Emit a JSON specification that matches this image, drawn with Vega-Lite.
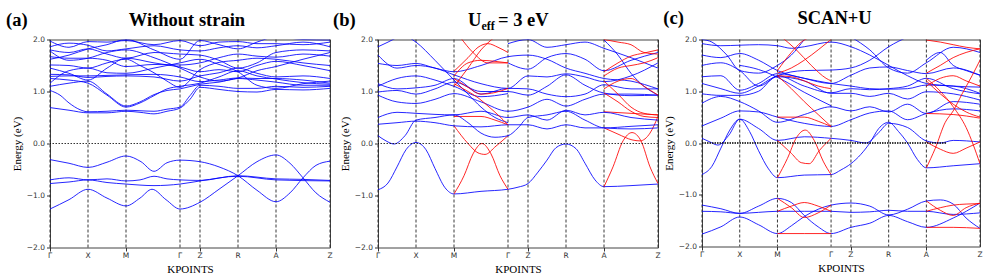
{
"$schema": "https://vega.github.io/schema/vega-lite/v6.json",
"padding": {"left": 5, "top": 8.5, "right": 5, "bottom": 2},
"background": "white",
"config": {
  "view": {"stroke": "#444", "strokeWidth": 1},
  "axis": {"labelFont": "DejaVu Sans", "labelFontSize": 7.5, "labelColor": "#333", "tickColor": "#333", "tickSize": 3.5, "domain": false, "grid": false, "titleFont": "Liberation Serif", "titleFontSize": 11, "titleFontWeight": "normal", "titleColor": "#000", "labelOverlap": false, "labelFlush": false}
},
"datasets": {
"kp": [{"k":0,"lab":"Γ"},{"k":38,"lab":"X"},{"k":76,"lab":"M"},{"k":130,"lab":"Γ"},{"k":150,"lab":"Z"},{"k":188,"lab":"R"},{"k":226,"lab":"A"},{"k":280,"lab":"Z"}],
"a": [
{"b":"a01","k":0,"e":-0.31},{"b":"a01","k":19,"e":-0.38},{"b":"a01","k":38,"e":-0.46},{"b":"a01","k":57,"e":-0.36},{"b":"a01","k":76,"e":-0.24},{"b":"a01","k":91,"e":-0.35},{"b":"a01","k":104,"e":-0.535},{"b":"a01","k":117,"e":-0.37},{"b":"a01","k":130,"e":-0.32},{"b":"a01","k":150,"e":-0.35},{"b":"a01","k":169,"e":-0.45},{"b":"a01","k":188,"e":-0.62},{"b":"a01","k":207,"e":-0.9},{"b":"a01","k":226,"e":-1.12},{"b":"a01","k":240,"e":-0.95},{"b":"a01","k":253,"e":-0.66},{"b":"a01","k":266,"e":-0.42},{"b":"a01","k":280,"e":-0.34},
{"b":"a02","k":0,"e":-1.26},{"b":"a02","k":19,"e":-1.08},{"b":"a02","k":38,"e":-0.88},{"b":"a02","k":57,"e":-1.05},{"b":"a02","k":76,"e":-1.2},{"b":"a02","k":90,"e":-1.05},{"b":"a02","k":102,"e":-0.88},{"b":"a02","k":116,"e":-1.08},{"b":"a02","k":130,"e":-1.26},{"b":"a02","k":150,"e":-1.13},{"b":"a02","k":169,"e":-0.88},{"b":"a02","k":188,"e":-0.62},{"b":"a02","k":207,"e":-0.35},{"b":"a02","k":226,"e":-0.22},{"b":"a02","k":240,"e":-0.38},{"b":"a02","k":253,"e":-0.66},{"b":"a02","k":266,"e":-0.95},{"b":"a02","k":280,"e":-1.13},
{"b":"a03","k":0,"e":-0.70},{"b":"a03","k":19,"e":-0.66},{"b":"a03","k":38,"e":-0.70},{"b":"a03","k":57,"e":-0.68},{"b":"a03","k":76,"e":-0.72},{"b":"a03","k":90,"e":-0.70},{"b":"a03","k":104,"e":-0.63},{"b":"a03","k":117,"e":-0.68},{"b":"a03","k":130,"e":-0.70},{"b":"a03","k":150,"e":-0.71},{"b":"a03","k":188,"e":-0.62},{"b":"a03","k":226,"e":-0.68},{"b":"a03","k":253,"e":-0.69},{"b":"a03","k":280,"e":-0.71},
{"b":"a04","k":0,"e":-0.77},{"b":"a04","k":19,"e":-0.74},{"b":"a04","k":38,"e":-0.70},{"b":"a04","k":57,"e":-0.75},{"b":"a04","k":76,"e":-0.78},{"b":"a04","k":104,"e":-0.81},{"b":"a04","k":130,"e":-0.78},{"b":"a04","k":150,"e":-0.72},{"b":"a04","k":188,"e":-0.63},{"b":"a04","k":226,"e":-0.70},{"b":"a04","k":280,"e":-0.72},
{"b":"a05","k":0,"e":0.69},{"b":"a05","k":19,"e":0.64},{"b":"a05","k":38,"e":0.59},{"b":"a05","k":57,"e":0.59},{"b":"a05","k":76,"e":0.62},{"b":"a05","k":90,"e":0.60},{"b":"a05","k":104,"e":0.57},{"b":"a05","k":117,"e":0.62},{"b":"a05","k":130,"e":0.68},{"b":"a05","k":140,"e":0.85},{"b":"a05","k":150,"e":1.08},{"b":"a05","k":169,"e":1.04},{"b":"a05","k":188,"e":1.0},{"b":"a05","k":207,"e":0.99},{"b":"a05","k":226,"e":1.04},{"b":"a05","k":253,"e":1.03},{"b":"a05","k":280,"e":1.06},
{"b":"a06","k":0,"e":1.02},{"b":"a06","k":10,"e":0.93},{"b":"a06","k":19,"e":0.78},{"b":"a06","k":30,"e":0.65},{"b":"a06","k":38,"e":0.61},{"b":"a06","k":57,"e":0.62},{"b":"a06","k":76,"e":0.64},{"b":"a06","k":90,"e":0.63},{"b":"a06","k":104,"e":0.62},{"b":"a06","k":117,"e":0.66},{"b":"a06","k":130,"e":0.70},{"b":"a06","k":140,"e":0.92},{"b":"a06","k":150,"e":1.12},{"b":"a06","k":169,"e":1.10},{"b":"a06","k":188,"e":1.06},{"b":"a06","k":207,"e":1.06},{"b":"a06","k":226,"e":1.10},{"b":"a06","k":253,"e":1.08},{"b":"a06","k":280,"e":1.10},
{"b":"a07","k":0,"e":1.10},{"b":"a07","k":19,"e":1.16},{"b":"a07","k":38,"e":1.20},{"b":"a07","k":57,"e":0.95},{"b":"a07","k":76,"e":0.72},{"b":"a07","k":90,"e":0.80},{"b":"a07","k":104,"e":0.94},{"b":"a07","k":117,"e":1.02},{"b":"a07","k":130,"e":1.05},{"b":"a07","k":150,"e":1.14},{"b":"a07","k":169,"e":1.18},{"b":"a07","k":188,"e":1.25},{"b":"a07","k":207,"e":1.22},{"b":"a07","k":226,"e":1.18},{"b":"a07","k":253,"e":1.12},{"b":"a07","k":280,"e":1.12},
{"b":"a08","k":0,"e":1.25},{"b":"a08","k":19,"e":1.22},{"b":"a08","k":38,"e":1.16},{"b":"a08","k":57,"e":0.93},{"b":"a08","k":76,"e":0.70},{"b":"a08","k":90,"e":0.78},{"b":"a08","k":104,"e":0.92},{"b":"a08","k":117,"e":1.05},{"b":"a08","k":130,"e":1.10},{"b":"a08","k":150,"e":1.16},{"b":"a08","k":169,"e":1.28},{"b":"a08","k":188,"e":1.40},{"b":"a08","k":207,"e":1.30},{"b":"a08","k":226,"e":1.24},{"b":"a08","k":253,"e":1.17},{"b":"a08","k":280,"e":1.14},
{"b":"a09","k":0,"e":1.29},{"b":"a09","k":19,"e":1.30},{"b":"a09","k":38,"e":1.30},{"b":"a09","k":57,"e":1.31},{"b":"a09","k":76,"e":1.32},{"b":"a09","k":104,"e":1.33},{"b":"a09","k":130,"e":1.28},{"b":"a09","k":150,"e":1.19},{"b":"a09","k":169,"e":1.22},{"b":"a09","k":188,"e":1.26},{"b":"a09","k":207,"e":1.25},{"b":"a09","k":226,"e":1.25},{"b":"a09","k":253,"e":1.22},{"b":"a09","k":280,"e":1.16},
{"b":"a10","k":0,"e":1.33},{"b":"a10","k":19,"e":1.32},{"b":"a10","k":38,"e":1.27},{"b":"a10","k":57,"e":1.29},{"b":"a10","k":76,"e":1.30},{"b":"a10","k":104,"e":1.28},{"b":"a10","k":130,"e":1.20},{"b":"a10","k":150,"e":1.30},{"b":"a10","k":169,"e":1.36},{"b":"a10","k":188,"e":1.45},{"b":"a10","k":207,"e":1.35},{"b":"a10","k":226,"e":1.28},{"b":"a10","k":253,"e":1.30},{"b":"a10","k":280,"e":1.25},
{"b":"a11","k":0,"e":1.45},{"b":"a11","k":19,"e":1.35},{"b":"a11","k":38,"e":1.22},{"b":"a11","k":57,"e":1.45},{"b":"a11","k":76,"e":1.64},{"b":"a11","k":104,"e":1.55},{"b":"a11","k":130,"e":1.47},{"b":"a11","k":150,"e":1.38},{"b":"a11","k":169,"e":1.42},{"b":"a11","k":188,"e":1.38},{"b":"a11","k":207,"e":1.50},{"b":"a11","k":226,"e":1.58},{"b":"a11","k":253,"e":1.50},{"b":"a11","k":280,"e":1.40},
{"b":"a12","k":0,"e":1.51},{"b":"a12","k":19,"e":1.50},{"b":"a12","k":38,"e":1.45},{"b":"a12","k":57,"e":1.55},{"b":"a12","k":76,"e":1.62},{"b":"a12","k":90,"e":1.50},{"b":"a12","k":104,"e":1.36},{"b":"a12","k":117,"e":1.20},{"b":"a12","k":130,"e":1.08},{"b":"a12","k":150,"e":1.42},{"b":"a12","k":169,"e":1.56},{"b":"a12","k":188,"e":1.60},{"b":"a12","k":207,"e":1.64},{"b":"a12","k":226,"e":1.62},{"b":"a12","k":253,"e":1.55},{"b":"a12","k":280,"e":1.50},
{"b":"a13","k":0,"e":1.67},{"b":"a13","k":19,"e":1.64},{"b":"a13","k":38,"e":1.64},{"b":"a13","k":57,"e":1.60},{"b":"a13","k":76,"e":1.48},{"b":"a13","k":104,"e":1.52},{"b":"a13","k":130,"e":1.51},{"b":"a13","k":150,"e":1.55},{"b":"a13","k":169,"e":1.65},{"b":"a13","k":188,"e":1.72},{"b":"a13","k":207,"e":1.68},{"b":"a13","k":226,"e":1.66},{"b":"a13","k":253,"e":1.72},{"b":"a13","k":280,"e":1.68},
{"b":"a14","k":0,"e":1.80},{"b":"a14","k":19,"e":1.75},{"b":"a14","k":38,"e":1.82},{"b":"a14","k":57,"e":1.72},{"b":"a14","k":76,"e":1.64},{"b":"a14","k":104,"e":1.75},{"b":"a14","k":130,"e":1.72},{"b":"a14","k":150,"e":1.70},{"b":"a14","k":169,"e":1.60},{"b":"a14","k":188,"e":1.45},{"b":"a14","k":207,"e":1.55},{"b":"a14","k":226,"e":1.75},{"b":"a14","k":253,"e":1.80},{"b":"a14","k":280,"e":1.78},
{"b":"a15","k":0,"e":1.86},{"b":"a15","k":19,"e":1.93},{"b":"a15","k":38,"e":1.89},{"b":"a15","k":57,"e":1.78},{"b":"a15","k":76,"e":1.82},{"b":"a15","k":104,"e":1.88},{"b":"a15","k":130,"e":1.80},{"b":"a15","k":150,"e":1.78},{"b":"a15","k":169,"e":1.84},{"b":"a15","k":188,"e":1.88},{"b":"a15","k":207,"e":1.84},{"b":"a15","k":226,"e":1.88},{"b":"a15","k":253,"e":1.95},{"b":"a15","k":280,"e":1.86},
{"b":"a16","k":0,"e":1.97},{"b":"a16","k":19,"e":1.85},{"b":"a16","k":38,"e":1.96},{"b":"a16","k":57,"e":1.95},{"b":"a16","k":76,"e":1.98},{"b":"a16","k":104,"e":1.90},{"b":"a16","k":130,"e":1.98},{"b":"a16","k":150,"e":1.88},{"b":"a16","k":169,"e":1.95},{"b":"a16","k":188,"e":1.96},{"b":"a16","k":207,"e":1.92},{"b":"a16","k":226,"e":1.92},{"b":"a16","k":253,"e":1.90},{"b":"a16","k":280,"e":1.95},
{"b":"a17","k":0,"e":1.62},{"b":"a17","k":19,"e":1.70},{"b":"a17","k":38,"e":1.82},{"b":"a17","k":57,"e":1.90},{"b":"a17","k":76,"e":2.0},{"b":"a17","k":104,"e":1.80},{"b":"a17","k":130,"e":1.62},{"b":"a17","k":150,"e":1.98},{"b":"a17","k":169,"e":1.90},{"b":"a17","k":188,"e":1.82},{"b":"a17","k":207,"e":1.95},{"b":"a17","k":226,"e":2.05},{"b":"a17","k":253,"e":2.0},{"b":"a17","k":280,"e":1.99},
{"b":"a18","k":0,"e":1.16},{"b":"a18","k":19,"e":1.40},{"b":"a18","k":38,"e":1.45},{"b":"a18","k":57,"e":1.36},{"b":"a18","k":76,"e":1.35},{"b":"a18","k":104,"e":1.45},{"b":"a18","k":130,"e":1.55},{"b":"a18","k":150,"e":1.62},{"b":"a18","k":169,"e":1.52},{"b":"a18","k":188,"e":1.38},{"b":"a18","k":207,"e":1.12},{"b":"a18","k":226,"e":1.06},{"b":"a18","k":253,"e":1.15},{"b":"a18","k":280,"e":1.20},
{"b":"a19","k":0,"e":1.78},{"b":"a19","k":19,"e":1.60},{"b":"a19","k":38,"e":1.64},{"b":"a19","k":57,"e":1.75},{"b":"a19","k":76,"e":1.80},{"b":"a19","k":104,"e":1.65},{"b":"a19","k":130,"e":1.45},{"b":"a19","k":150,"e":1.28},{"b":"a19","k":169,"e":1.20},{"b":"a19","k":188,"e":1.26},{"b":"a19","k":207,"e":1.40},{"b":"a19","k":226,"e":1.48},{"b":"a19","k":253,"e":1.62},{"b":"a19","k":280,"e":1.75}
],
"b": [
{"b":"b01","s":"u","k":0,"e":-0.89},{"b":"b01","s":"u","k":10,"e":-0.76},{"b":"b01","s":"u","k":19,"e":-0.45},{"b":"b01","s":"u","k":28,"e":-0.12},{"b":"b01","s":"u","k":38,"e":0.02},{"b":"b01","s":"u","k":48,"e":-0.12},{"b":"b01","s":"u","k":57,"e":-0.48},{"b":"b01","s":"u","k":67,"e":-0.85},{"b":"b01","s":"u","k":76,"e":-0.97},{"b":"b01","s":"u","k":103,"e":-0.92},{"b":"b01","s":"u","k":130,"e":-0.88},{"b":"b01","s":"u","k":140,"e":-0.84},{"b":"b01","s":"u","k":150,"e":-0.77},{"b":"b01","s":"u","k":160,"e":-0.55},{"b":"b01","s":"u","k":169,"e":-0.32},{"b":"b01","s":"u","k":178,"e":-0.08},{"b":"b01","s":"u","k":188,"e":-0.01},{"b":"b01","s":"u","k":198,"e":-0.1},{"b":"b01","s":"u","k":207,"e":-0.38},{"b":"b01","s":"u","k":217,"e":-0.7},{"b":"b01","s":"u","k":226,"e":-0.83},{"b":"b01","s":"u","k":253,"e":-0.81},{"b":"b01","s":"u","k":280,"e":-0.78},
{"b":"b02","s":"d","k":76,"e":-0.97},{"b":"b02","s":"d","k":86,"e":-0.62},{"b":"b02","s":"d","k":95,"e":-0.2},{"b":"b02","s":"d","k":104,"e":0.0},{"b":"b02","s":"d","k":113,"e":-0.2},{"b":"b02","s":"d","k":122,"e":-0.62},{"b":"b02","s":"d","k":130,"e":-0.88},
{"b":"b03","s":"d","k":76,"e":0.34},{"b":"b03","s":"d","k":90,"e":0.0},{"b":"b03","s":"d","k":100,"e":-0.18},{"b":"b03","s":"d","k":107,"e":-0.21},{"b":"b03","s":"d","k":118,"e":-0.05},{"b":"b03","s":"d","k":130,"e":0.15},
{"b":"b04","s":"d","k":226,"e":-0.83},{"b":"b04","s":"d","k":235,"e":-0.45},{"b":"b04","s":"d","k":245,"e":0.05},{"b":"b04","s":"d","k":254,"e":0.21},{"b":"b04","s":"d","k":263,"e":0.05},{"b":"b04","s":"d","k":272,"e":-0.45},{"b":"b04","s":"d","k":280,"e":-0.77},
{"b":"b05","s":"d","k":226,"e":0.30},{"b":"b05","s":"d","k":240,"e":0.18},{"b":"b05","s":"d","k":254,"e":0.07},{"b":"b05","s":"d","k":262,"e":0.05},{"b":"b05","s":"d","k":272,"e":0.2},{"b":"b05","s":"d","k":280,"e":0.52},
{"b":"b06","s":"d","k":226,"e":0.61},{"b":"b06","s":"d","k":253,"e":0.58},{"b":"b06","s":"d","k":280,"e":0.55},
{"b":"b07","s":"d","k":76,"e":0.52},{"b":"b07","s":"d","k":103,"e":0.52},{"b":"b07","s":"d","k":117,"e":0.45},{"b":"b07","s":"d","k":130,"e":0.36},
{"b":"b10","s":"u","k":0,"e":0.15},{"b":"b10","s":"u","k":8,"e":0.05},{"b":"b10","s":"u","k":16,"e":-0.01},{"b":"b10","s":"u","k":27,"e":0.15},{"b":"b10","s":"u","k":38,"e":0.45},{"b":"b10","s":"u","k":57,"e":0.50},{"b":"b10","s":"u","k":76,"e":0.55},{"b":"b10","s":"u","k":90,"e":0.40},{"b":"b10","s":"u","k":103,"e":0.20},{"b":"b10","s":"u","k":117,"e":0.12},{"b":"b10","s":"u","k":130,"e":0.15},{"b":"b10","s":"u","k":140,"e":0.30},{"b":"b10","s":"u","k":150,"e":0.50},{"b":"b10","s":"u","k":169,"e":0.55},{"b":"b10","s":"u","k":188,"e":0.62},{"b":"b10","s":"u","k":207,"e":0.45},{"b":"b10","s":"u","k":226,"e":0.30},{"b":"b10","s":"u","k":253,"e":0.28},{"b":"b10","s":"u","k":280,"e":0.30},
{"b":"b11","s":"u","k":0,"e":0.37},{"b":"b11","s":"u","k":19,"e":0.40},{"b":"b11","s":"u","k":38,"e":0.43},{"b":"b11","s":"u","k":57,"e":0.40},{"b":"b11","s":"u","k":76,"e":0.34},{"b":"b11","s":"u","k":103,"e":0.32},{"b":"b11","s":"u","k":130,"e":0.36},{"b":"b11","s":"u","k":150,"e":0.36},{"b":"b11","s":"u","k":169,"e":0.28},{"b":"b11","s":"u","k":188,"e":0.36},{"b":"b11","s":"u","k":207,"e":0.30},{"b":"b11","s":"u","k":226,"e":0.30},{"b":"b11","s":"u","k":253,"e":0.33},{"b":"b11","s":"u","k":280,"e":0.36},
{"b":"b12","s":"u","k":0,"e":0.50},{"b":"b12","s":"u","k":19,"e":0.60},{"b":"b12","s":"u","k":38,"e":0.58},{"b":"b12","s":"u","k":57,"e":0.56},{"b":"b12","s":"u","k":76,"e":0.55},{"b":"b12","s":"u","k":103,"e":0.62},{"b":"b12","s":"u","k":130,"e":0.50},{"b":"b12","s":"u","k":150,"e":0.55},{"b":"b12","s":"u","k":169,"e":0.45},{"b":"b12","s":"u","k":188,"e":0.64},{"b":"b12","s":"u","k":207,"e":0.55},{"b":"b12","s":"u","k":226,"e":0.60},{"b":"b12","s":"u","k":253,"e":0.50},{"b":"b12","s":"u","k":280,"e":0.45},
{"b":"b13","s":"u","k":0,"e":0.93},{"b":"b13","s":"u","k":19,"e":0.80},{"b":"b13","s":"u","k":38,"e":0.77},{"b":"b13","s":"u","k":57,"e":0.85},{"b":"b13","s":"u","k":76,"e":0.96},{"b":"b13","s":"u","k":103,"e":0.80},{"b":"b13","s":"u","k":130,"e":0.62},{"b":"b13","s":"u","k":150,"e":0.70},{"b":"b13","s":"u","k":169,"e":0.85},{"b":"b13","s":"u","k":188,"e":0.72},{"b":"b13","s":"u","k":207,"e":0.85},{"b":"b13","s":"u","k":226,"e":0.95},{"b":"b13","s":"u","k":253,"e":0.95},{"b":"b13","s":"u","k":280,"e":0.93},
{"b":"b14","s":"u","k":0,"e":0.99},{"b":"b14","s":"u","k":19,"e":1.02},{"b":"b14","s":"u","k":38,"e":0.95},{"b":"b14","s":"u","k":57,"e":1.05},{"b":"b14","s":"u","k":76,"e":1.18},{"b":"b14","s":"u","k":103,"e":1.0},{"b":"b14","s":"u","k":130,"e":1.0},{"b":"b14","s":"u","k":150,"e":0.93},{"b":"b14","s":"u","k":169,"e":1.1},{"b":"b14","s":"u","k":188,"e":1.32},{"b":"b14","s":"u","k":207,"e":1.12},{"b":"b14","s":"u","k":226,"e":0.97},{"b":"b14","s":"u","k":253,"e":0.92},{"b":"b14","s":"u","k":280,"e":0.93},
{"b":"b15","s":"u","k":0,"e":1.15},{"b":"b15","s":"u","k":19,"e":1.05},{"b":"b15","s":"u","k":38,"e":1.07},{"b":"b15","s":"u","k":57,"e":1.12},{"b":"b15","s":"u","k":76,"e":1.25},{"b":"b15","s":"u","k":103,"e":0.95},{"b":"b15","s":"u","k":130,"e":1.06},{"b":"b15","s":"u","k":150,"e":1.05},{"b":"b15","s":"u","k":169,"e":0.95},{"b":"b15","s":"u","k":188,"e":0.90},{"b":"b15","s":"u","k":207,"e":0.95},{"b":"b15","s":"u","k":226,"e":1.13},{"b":"b15","s":"u","k":253,"e":1.05},{"b":"b15","s":"u","k":280,"e":1.05},
{"b":"b16","s":"u","k":0,"e":1.54},{"b":"b16","s":"u","k":19,"e":1.50},{"b":"b16","s":"u","k":38,"e":1.54},{"b":"b16","s":"u","k":57,"e":1.45},{"b":"b16","s":"u","k":76,"e":1.38},{"b":"b16","s":"u","k":103,"e":1.50},{"b":"b16","s":"u","k":130,"e":1.67},{"b":"b16","s":"u","k":150,"e":1.70},{"b":"b16","s":"u","k":169,"e":1.62},{"b":"b16","s":"u","k":188,"e":1.45},{"b":"b16","s":"u","k":207,"e":1.35},{"b":"b16","s":"u","k":226,"e":1.25},{"b":"b16","s":"u","k":253,"e":1.20},{"b":"b16","s":"u","k":280,"e":1.05},
{"b":"b17","s":"u","k":0,"e":1.70},{"b":"b17","s":"u","k":19,"e":1.45},{"b":"b17","s":"u","k":38,"e":1.50},{"b":"b17","s":"u","k":57,"e":1.45},{"b":"b17","s":"u","k":76,"e":1.32},{"b":"b17","s":"u","k":103,"e":1.15},{"b":"b17","s":"u","k":130,"e":1.06},{"b":"b17","s":"u","k":150,"e":1.30},{"b":"b17","s":"u","k":169,"e":1.28},{"b":"b17","s":"u","k":188,"e":1.34},{"b":"b17","s":"u","k":207,"e":1.28},{"b":"b17","s":"u","k":226,"e":1.19},{"b":"b17","s":"u","k":253,"e":1.30},{"b":"b17","s":"u","k":280,"e":1.55},
{"b":"b18","s":"u","k":0,"e":1.86},{"b":"b18","s":"u","k":10,"e":1.95},{"b":"b18","s":"u","k":20,"e":2.05},
{"b":"b19","s":"u","k":30,"e":2.05},{"b":"b19","s":"u","k":38,"e":1.95},{"b":"b19","s":"u","k":57,"e":1.60},{"b":"b19","s":"u","k":76,"e":1.22},{"b":"b19","s":"u","k":90,"e":0.95},{"b":"b19","s":"u","k":103,"e":0.70},{"b":"b19","s":"u","k":117,"e":0.50},{"b":"b19","s":"u","k":130,"e":0.40},
{"b":"b20","s":"u","k":130,"e":1.55},{"b":"b20","s":"u","k":150,"e":1.43},{"b":"b20","s":"u","k":169,"e":1.65},{"b":"b20","s":"u","k":188,"e":1.73},{"b":"b20","s":"u","k":207,"e":1.62},{"b":"b20","s":"u","k":226,"e":1.40},{"b":"b20","s":"u","k":253,"e":1.60},{"b":"b20","s":"u","k":280,"e":1.75},
{"b":"b22","s":"u","k":130,"e":1.92},{"b":"b22","s":"u","k":150,"e":2.0},{"b":"b22","s":"u","k":169,"e":1.85},{"b":"b22","s":"u","k":188,"e":1.90},{"b":"b22","s":"u","k":207,"e":1.95},{"b":"b22","s":"u","k":226,"e":1.83},{"b":"b22","s":"u","k":253,"e":1.65},{"b":"b22","s":"u","k":280,"e":1.45},
{"b":"b23","s":"u","k":226,"e":1.99},{"b":"b23","s":"u","k":240,"e":1.7},{"b":"b23","s":"u","k":253,"e":1.35},{"b":"b23","s":"u","k":266,"e":1.1},{"b":"b23","s":"u","k":280,"e":0.93},
{"b":"b24","s":"u","k":0,"e":1.10},{"b":"b24","s":"u","k":19,"e":1.25},{"b":"b24","s":"u","k":38,"e":1.30},{"b":"b24","s":"u","k":57,"e":1.22},{"b":"b24","s":"u","k":76,"e":1.10},{"b":"b24","s":"u","k":103,"e":0.90},{"b":"b24","s":"u","k":130,"e":0.96},
{"b":"b30","s":"d","k":76,"e":1.39},{"b":"b30","s":"d","k":90,"e":1.65},{"b":"b30","s":"d","k":100,"e":1.85},{"b":"b30","s":"d","k":110,"e":1.92},{"b":"b30","s":"d","k":120,"e":1.85},{"b":"b30","s":"d","k":130,"e":1.75},
{"b":"b31","s":"d","k":76,"e":1.10},{"b":"b31","s":"d","k":90,"e":1.45},{"b":"b31","s":"d","k":103,"e":1.80},{"b":"b31","s":"d","k":117,"e":2.05},
{"b":"b32","s":"d","k":76,"e":1.25},{"b":"b32","s":"d","k":90,"e":1.08},{"b":"b32","s":"d","k":103,"e":0.95},{"b":"b32","s":"d","k":117,"e":0.98},{"b":"b32","s":"d","k":130,"e":1.06},
{"b":"b33","s":"d","k":76,"e":1.15},{"b":"b33","s":"d","k":90,"e":1.0},{"b":"b33","s":"d","k":100,"e":0.88},{"b":"b33","s":"d","k":110,"e":0.72},{"b":"b33","s":"d","k":120,"e":0.55},{"b":"b33","s":"d","k":130,"e":0.36},
{"b":"b34","s":"d","k":76,"e":1.30},{"b":"b34","s":"d","k":90,"e":1.55},{"b":"b34","s":"d","k":103,"e":1.60},{"b":"b34","s":"d","k":117,"e":1.58},{"b":"b34","s":"d","k":130,"e":1.55},
{"b":"b35","s":"d","k":82,"e":2.05},{"b":"b35","s":"d","k":95,"e":1.75},{"b":"b35","s":"d","k":110,"e":1.55},{"b":"b35","s":"d","k":130,"e":1.55},
{"b":"b36","s":"d","k":226,"e":1.38},{"b":"b36","s":"d","k":240,"e":1.55},{"b":"b36","s":"d","k":253,"e":1.68},{"b":"b36","s":"d","k":266,"e":1.74},{"b":"b36","s":"d","k":280,"e":1.80},
{"b":"b37","s":"d","k":226,"e":1.30},{"b":"b37","s":"d","k":240,"e":1.45},{"b":"b37","s":"d","k":253,"e":1.50},{"b":"b37","s":"d","k":266,"e":1.55},{"b":"b37","s":"d","k":280,"e":1.65},
{"b":"b38","s":"d","k":226,"e":1.05},{"b":"b38","s":"d","k":240,"e":1.20},{"b":"b38","s":"d","k":253,"e":1.25},{"b":"b38","s":"d","k":266,"e":1.10},{"b":"b38","s":"d","k":280,"e":0.93},
{"b":"b39","s":"d","k":226,"e":1.20},{"b":"b39","s":"d","k":240,"e":0.95},{"b":"b39","s":"d","k":253,"e":0.70},{"b":"b39","s":"d","k":266,"e":0.58},{"b":"b39","s":"d","k":280,"e":0.55},
{"b":"b40","s":"d","k":226,"e":2.0},{"b":"b40","s":"d","k":240,"e":1.95},{"b":"b40","s":"d","k":253,"e":1.90},{"b":"b40","s":"d","k":266,"e":1.75},{"b":"b40","s":"d","k":280,"e":1.72},
{"b":"b41","s":"d","k":226,"e":0.97},{"b":"b41","s":"d","k":240,"e":0.80},{"b":"b41","s":"d","k":253,"e":0.62},{"b":"b41","s":"d","k":266,"e":0.52},{"b":"b41","s":"d","k":280,"e":0.50}
],
"c": [
{"b":"c01","s":"u","k":0,"e":-0.61},{"b":"c01","s":"u","k":10,"e":-0.45},{"b":"c01","s":"u","k":19,"e":-0.10},{"b":"c01","s":"u","k":28,"e":0.25},{"b":"c01","s":"u","k":38,"e":0.46},{"b":"c01","s":"u","k":48,"e":0.22},{"b":"c01","s":"u","k":57,"e":-0.15},{"b":"c01","s":"u","k":67,"e":-0.50},{"b":"c01","s":"u","k":76,"e":-0.67},{"b":"c01","s":"u","k":103,"e":-0.62},{"b":"c01","s":"u","k":130,"e":-0.61},{"b":"c01","s":"u","k":140,"e":-0.52},{"b":"c01","s":"u","k":150,"e":-0.40},{"b":"c01","s":"u","k":160,"e":-0.22},{"b":"c01","s":"u","k":169,"e":0.0},{"b":"c01","s":"u","k":178,"e":0.28},{"b":"c01","s":"u","k":188,"e":0.40},{"b":"c01","s":"u","k":198,"e":0.22},{"b":"c01","s":"u","k":207,"e":0.0},{"b":"c01","s":"u","k":217,"e":-0.32},{"b":"c01","s":"u","k":226,"e":-0.48},{"b":"c01","s":"u","k":253,"e":-0.44},{"b":"c01","s":"u","k":280,"e":-0.40},
{"b":"c02","s":"u","k":0,"e":0.09},{"b":"c02","s":"u","k":8,"e":0.02},{"b":"c02","s":"u","k":16,"e":-0.04},{"b":"c02","s":"u","k":27,"e":0.15},{"b":"c02","s":"u","k":38,"e":0.46},{"b":"c02","s":"u","k":57,"e":0.28},{"b":"c02","s":"u","k":76,"e":0.05},{"b":"c02","s":"u","k":103,"e":0.12},{"b":"c02","s":"u","k":130,"e":0.09},{"b":"c02","s":"u","k":150,"e":0.05},{"b":"c02","s":"u","k":165,"e":0.0},{"b":"c02","s":"u","k":178,"e":0.2},{"b":"c02","s":"u","k":188,"e":0.38},{"b":"c02","s":"u","k":207,"e":0.30},{"b":"c02","s":"u","k":226,"e":0.04},{"b":"c02","s":"u","k":240,"e":0.0},{"b":"c02","s":"u","k":253,"e":0.05},{"b":"c02","s":"u","k":280,"e":0.02},
{"b":"c03","s":"u","k":0,"e":0.33},{"b":"c03","s":"u","k":19,"e":0.48},{"b":"c03","s":"u","k":38,"e":0.62},{"b":"c03","s":"u","k":57,"e":0.60},{"b":"c03","s":"u","k":76,"e":0.50},{"b":"c03","s":"u","k":103,"e":0.38},{"b":"c03","s":"u","k":130,"e":0.32},{"b":"c03","s":"u","k":150,"e":0.45},{"b":"c03","s":"u","k":169,"e":0.58},{"b":"c03","s":"u","k":188,"e":0.62},{"b":"c03","s":"u","k":207,"e":0.45},{"b":"c03","s":"u","k":226,"e":0.57},{"b":"c03","s":"u","k":253,"e":0.66},{"b":"c03","s":"u","k":280,"e":0.62},
{"b":"c04","s":"u","k":0,"e":0.95},{"b":"c04","s":"u","k":19,"e":0.92},{"b":"c04","s":"u","k":38,"e":0.92},{"b":"c04","s":"u","k":57,"e":1.0},{"b":"c04","s":"u","k":76,"e":1.30},{"b":"c04","s":"u","k":103,"e":1.10},{"b":"c04","s":"u","k":130,"e":0.97},{"b":"c04","s":"u","k":150,"e":1.05},{"b":"c04","s":"u","k":169,"e":1.03},{"b":"c04","s":"u","k":188,"e":1.05},{"b":"c04","s":"u","k":207,"e":1.10},{"b":"c04","s":"u","k":226,"e":1.25},{"b":"c04","s":"u","k":253,"e":1.05},{"b":"c04","s":"u","k":280,"e":0.95},
{"b":"c05","s":"u","k":0,"e":1.92},{"b":"c05","s":"u","k":19,"e":1.88},{"b":"c05","s":"u","k":38,"e":1.89},{"b":"c05","s":"u","k":57,"e":1.90},{"b":"c05","s":"u","k":76,"e":1.88},{"b":"c05","s":"u","k":90,"e":1.83},{"b":"c05","s":"u","k":103,"e":1.86},{"b":"c05","s":"u","k":130,"e":1.95},{"b":"c05","s":"u","k":150,"e":1.86},{"b":"c05","s":"u","k":169,"e":1.70},{"b":"c05","s":"u","k":188,"e":1.50},{"b":"c05","s":"u","k":207,"e":1.30},{"b":"c05","s":"u","k":226,"e":1.15},{"b":"c05","s":"u","k":253,"e":1.10},{"b":"c05","s":"u","k":280,"e":1.08},
{"b":"c06","s":"u","k":0,"e":1.70},{"b":"c06","s":"u","k":19,"e":1.65},{"b":"c06","s":"u","k":38,"e":1.73},{"b":"c06","s":"u","k":57,"e":1.60},{"b":"c06","s":"u","k":76,"e":1.40},{"b":"c06","s":"u","k":103,"e":1.25},{"b":"c06","s":"u","k":130,"e":1.15},{"b":"c06","s":"u","k":150,"e":1.31},{"b":"c06","s":"u","k":169,"e":1.45},{"b":"c06","s":"u","k":188,"e":1.47},{"b":"c06","s":"u","k":207,"e":1.40},{"b":"c06","s":"u","k":226,"e":1.34},{"b":"c06","s":"u","k":253,"e":1.45},{"b":"c06","s":"u","k":280,"e":1.31},
{"b":"c07","s":"u","k":0,"e":1.50},{"b":"c07","s":"u","k":19,"e":1.55},{"b":"c07","s":"u","k":38,"e":1.40},{"b":"c07","s":"u","k":57,"e":1.10},{"b":"c07","s":"u","k":76,"e":1.30},{"b":"c07","s":"u","k":103,"e":1.40},{"b":"c07","s":"u","k":130,"e":1.41},{"b":"c07","s":"u","k":150,"e":1.45},{"b":"c07","s":"u","k":169,"e":1.60},{"b":"c07","s":"u","k":188,"e":1.86},{"b":"c07","s":"u","k":207,"e":2.05},
{"b":"c08","s":"u","k":0,"e":1.28},{"b":"c08","s":"u","k":19,"e":1.30},{"b":"c08","s":"u","k":38,"e":1.02},{"b":"c08","s":"u","k":57,"e":1.15},{"b":"c08","s":"u","k":76,"e":1.34},{"b":"c08","s":"u","k":103,"e":1.25},{"b":"c08","s":"u","k":130,"e":1.15},{"b":"c08","s":"u","k":150,"e":1.10},{"b":"c08","s":"u","k":169,"e":1.05},{"b":"c08","s":"u","k":188,"e":1.04},{"b":"c08","s":"u","k":207,"e":1.05},{"b":"c08","s":"u","k":226,"e":1.12},{"b":"c08","s":"u","k":253,"e":1.10},{"b":"c08","s":"u","k":280,"e":0.96},
{"b":"c09","s":"u","k":0,"e":1.15},{"b":"c09","s":"u","k":19,"e":1.05},{"b":"c09","s":"u","k":38,"e":0.96},{"b":"c09","s":"u","k":57,"e":1.10},{"b":"c09","s":"u","k":76,"e":1.28},{"b":"c09","s":"u","k":103,"e":1.20},{"b":"c09","s":"u","k":130,"e":0.96},{"b":"c09","s":"u","k":150,"e":0.96},{"b":"c09","s":"u","k":169,"e":0.90},{"b":"c09","s":"u","k":188,"e":0.96},{"b":"c09","s":"u","k":207,"e":0.85},{"b":"c09","s":"u","k":226,"e":0.99},{"b":"c09","s":"u","k":253,"e":0.95},{"b":"c09","s":"u","k":280,"e":0.83},
{"b":"c10","s":"u","k":0,"e":0.77},{"b":"c10","s":"u","k":19,"e":0.90},{"b":"c10","s":"u","k":38,"e":0.80},{"b":"c10","s":"u","k":57,"e":0.62},{"b":"c10","s":"u","k":76,"e":0.40},{"b":"c10","s":"u","k":103,"e":0.55},{"b":"c10","s":"u","k":130,"e":0.70},{"b":"c10","s":"u","k":150,"e":0.62},{"b":"c10","s":"u","k":169,"e":0.70},{"b":"c10","s":"u","k":188,"e":0.60},{"b":"c10","s":"u","k":207,"e":0.75},{"b":"c10","s":"u","k":226,"e":0.57},{"b":"c10","s":"u","k":253,"e":0.80},{"b":"c10","s":"u","k":280,"e":0.75},
{"b":"c11","s":"u","k":0,"e":2.0},{"b":"c11","s":"u","k":10,"e":1.95},{"b":"c11","s":"u","k":25,"e":1.70},{"b":"c11","s":"u","k":38,"e":1.40},{"b":"c11","s":"u","k":57,"e":1.35},{"b":"c11","s":"u","k":76,"e":1.50},{"b":"c11","s":"u","k":90,"e":1.70},{"b":"c11","s":"u","k":103,"e":2.0},
{"b":"c12","s":"u","k":150,"e":2.05},{"b":"c12","s":"u","k":169,"e":1.80},{"b":"c12","s":"u","k":188,"e":1.45},{"b":"c12","s":"u","k":207,"e":1.35},{"b":"c12","s":"u","k":226,"e":1.55},{"b":"c12","s":"u","k":253,"e":1.85},{"b":"c12","s":"u","k":280,"e":1.75},
{"b":"c13","s":"u","k":226,"e":1.60},{"b":"c13","s":"u","k":240,"e":1.75},{"b":"c13","s":"u","k":253,"e":1.50},{"b":"c13","s":"u","k":266,"e":1.40},{"b":"c13","s":"u","k":280,"e":1.31},
{"b":"c14","s":"u","k":38,"e":1.5},{"b":"c14","s":"u","k":57,"e":1.42},{"b":"c14","s":"u","k":76,"e":1.27},{"b":"c14","s":"u","k":103,"e":0.98},{"b":"c14","s":"u","k":130,"e":0.72},
{"b":"c20","s":"d","k":76,"e":-0.67},{"b":"c20","s":"d","k":86,"e":-0.30},{"b":"c20","s":"d","k":95,"e":0.10},{"b":"c20","s":"d","k":104,"e":0.25},{"b":"c20","s":"d","k":113,"e":0.05},{"b":"c20","s":"d","k":122,"e":-0.35},{"b":"c20","s":"d","k":130,"e":-0.61},
{"b":"c21","s":"d","k":76,"e":0.05},{"b":"c21","s":"d","k":90,"e":-0.20},{"b":"c21","s":"d","k":100,"e":-0.38},{"b":"c21","s":"d","k":108,"e":-0.40},{"b":"c21","s":"d","k":118,"e":-0.15},{"b":"c21","s":"d","k":130,"e":0.09},
{"b":"c22","s":"d","k":76,"e":0.50},{"b":"c22","s":"d","k":103,"e":0.50},{"b":"c22","s":"d","k":117,"e":0.42},{"b":"c22","s":"d","k":130,"e":0.32},
{"b":"c23","s":"d","k":76,"e":1.30},{"b":"c23","s":"d","k":90,"e":1.05},{"b":"c23","s":"d","k":103,"e":0.80},{"b":"c23","s":"d","k":117,"e":0.55},{"b":"c23","s":"d","k":130,"e":0.32},
{"b":"c24","s":"d","k":76,"e":1.35},{"b":"c24","s":"d","k":90,"e":1.45},{"b":"c24","s":"d","k":103,"e":1.60},{"b":"c24","s":"d","k":117,"e":1.80},{"b":"c24","s":"d","k":130,"e":2.0},
{"b":"c25","s":"d","k":76,"e":1.40},{"b":"c25","s":"d","k":90,"e":1.75},{"b":"c25","s":"d","k":100,"e":1.95},{"b":"c25","s":"d","k":110,"e":2.05},
{"b":"c26","s":"d","k":76,"e":1.30},{"b":"c26","s":"d","k":90,"e":1.28},{"b":"c26","s":"d","k":103,"e":1.20},{"b":"c26","s":"d","k":117,"e":1.10},{"b":"c26","s":"d","k":130,"e":1.05},
{"b":"c27","s":"d","k":80,"e":2.05},{"b":"c27","s":"d","k":95,"e":1.8},{"b":"c27","s":"d","k":110,"e":1.5},{"b":"c27","s":"d","k":125,"e":1.25},{"b":"c27","s":"d","k":130,"e":1.20},
{"b":"c30","s":"d","k":226,"e":-0.48},{"b":"c30","s":"d","k":235,"e":-0.10},{"b":"c30","s":"d","k":245,"e":0.40},{"b":"c30","s":"d","k":253,"e":0.62},{"b":"c30","s":"d","k":262,"e":0.95},{"b":"c30","s":"d","k":272,"e":1.30},{"b":"c30","s":"d","k":280,"e":1.60},
{"b":"c31","s":"d","k":226,"e":0.02},{"b":"c31","s":"d","k":240,"e":-0.12},{"b":"c31","s":"d","k":253,"e":-0.20},{"b":"c31","s":"d","k":266,"e":-0.10},{"b":"c31","s":"d","k":280,"e":0.02},
{"b":"c32","s":"d","k":226,"e":0.57},{"b":"c32","s":"d","k":253,"e":0.55},{"b":"c32","s":"d","k":280,"e":0.48},
{"b":"c33","s":"d","k":226,"e":1.25},{"b":"c33","s":"d","k":240,"e":1.0},{"b":"c33","s":"d","k":253,"e":0.70},{"b":"c33","s":"d","k":266,"e":0.30},{"b":"c33","s":"d","k":280,"e":-0.40},
{"b":"c34","s":"d","k":226,"e":1.35},{"b":"c34","s":"d","k":240,"e":1.50},{"b":"c34","s":"d","k":253,"e":1.65},{"b":"c34","s":"d","k":266,"e":1.75},{"b":"c34","s":"d","k":280,"e":1.82},
{"b":"c35","s":"d","k":226,"e":1.10},{"b":"c35","s":"d","k":240,"e":1.25},{"b":"c35","s":"d","k":253,"e":1.30},{"b":"c35","s":"d","k":266,"e":1.20},{"b":"c35","s":"d","k":280,"e":1.10},
{"b":"c36","s":"d","k":226,"e":1.20},{"b":"c36","s":"d","k":240,"e":0.95},{"b":"c36","s":"d","k":253,"e":0.75},{"b":"c36","s":"d","k":266,"e":0.60},{"b":"c36","s":"d","k":280,"e":0.50},
{"b":"c37","s":"d","k":226,"e":1.99},{"b":"c37","s":"d","k":240,"e":1.95},{"b":"c37","s":"d","k":253,"e":1.90},{"b":"c37","s":"d","k":266,"e":1.85},{"b":"c37","s":"d","k":280,"e":1.82},
{"b":"c40","s":"u","k":0,"e":-1.20},{"b":"c40","s":"u","k":19,"e":-1.27},{"b":"c40","s":"u","k":38,"e":-1.36},{"b":"c40","s":"u","k":57,"e":-1.22},{"b":"c40","s":"u","k":76,"e":-1.07},{"b":"c40","s":"u","k":90,"e":-1.15},{"b":"c40","s":"u","k":103,"e":-1.40},{"b":"c40","s":"u","k":117,"e":-1.62},{"b":"c40","s":"u","k":130,"e":-1.75},{"b":"c40","s":"u","k":150,"e":-1.63},{"b":"c40","s":"u","k":169,"e":-1.55},{"b":"c40","s":"u","k":188,"e":-1.40},{"b":"c40","s":"u","k":207,"e":-1.52},{"b":"c40","s":"u","k":226,"e":-1.63},{"b":"c40","s":"u","k":253,"e":-1.45},{"b":"c40","s":"u","k":280,"e":-1.16},
{"b":"c41","s":"u","k":0,"e":-1.76},{"b":"c41","s":"u","k":19,"e":-1.62},{"b":"c41","s":"u","k":38,"e":-1.43},{"b":"c41","s":"u","k":57,"e":-1.58},{"b":"c41","s":"u","k":76,"e":-1.75},{"b":"c41","s":"u","k":90,"e":-1.60},{"b":"c41","s":"u","k":103,"e":-1.42},{"b":"c41","s":"u","k":117,"e":-1.28},{"b":"c41","s":"u","k":130,"e":-1.20},{"b":"c41","s":"u","k":150,"e":-1.16},{"b":"c41","s":"u","k":169,"e":-1.22},{"b":"c41","s":"u","k":188,"e":-1.39},{"b":"c41","s":"u","k":207,"e":-1.28},{"b":"c41","s":"u","k":226,"e":-1.12},{"b":"c41","s":"u","k":240,"e":-1.10},{"b":"c41","s":"u","k":253,"e":-1.18},{"b":"c41","s":"u","k":266,"e":-1.45},{"b":"c41","s":"u","k":280,"e":-1.65},
{"b":"c42","s":"u","k":0,"e":-1.32},{"b":"c42","s":"u","k":19,"e":-1.33},{"b":"c42","s":"u","k":38,"e":-1.36},{"b":"c42","s":"u","k":57,"e":-1.34},{"b":"c42","s":"u","k":76,"e":-1.32},{"b":"c42","s":"u","k":103,"e":-1.32},{"b":"c42","s":"u","k":130,"e":-1.32},{"b":"c42","s":"u","k":150,"e":-1.34},{"b":"c42","s":"u","k":169,"e":-1.33},{"b":"c42","s":"u","k":188,"e":-1.30},{"b":"c42","s":"u","k":207,"e":-1.32},{"b":"c42","s":"u","k":226,"e":-1.32},{"b":"c42","s":"u","k":253,"e":-1.38},{"b":"c42","s":"u","k":280,"e":-1.35},
{"b":"c44","s":"d","k":76,"e":-1.75},{"b":"c44","s":"d","k":103,"e":-1.75},{"b":"c44","s":"d","k":130,"e":-1.75},
{"b":"c45","s":"d","k":76,"e":-1.32},{"b":"c45","s":"d","k":90,"e":-1.22},{"b":"c45","s":"d","k":103,"e":-1.15},{"b":"c45","s":"d","k":117,"e":-1.22},{"b":"c45","s":"d","k":130,"e":-1.32},
{"b":"c46","s":"d","k":76,"e":-1.07},{"b":"c46","s":"d","k":90,"e":-1.25},{"b":"c46","s":"d","k":103,"e":-1.44},{"b":"c46","s":"d","k":117,"e":-1.35},{"b":"c46","s":"d","k":130,"e":-1.20},
{"b":"c47","s":"d","k":226,"e":-1.63},{"b":"c47","s":"d","k":253,"e":-1.63},{"b":"c47","s":"d","k":280,"e":-1.65},
{"b":"c48","s":"d","k":226,"e":-1.12},{"b":"c48","s":"d","k":240,"e":-1.30},{"b":"c48","s":"d","k":253,"e":-1.40},{"b":"c48","s":"d","k":266,"e":-1.25},{"b":"c48","s":"d","k":280,"e":-1.16},
{"b":"c49","s":"d","k":226,"e":-1.32},{"b":"c49","s":"d","k":240,"e":-1.25},{"b":"c49","s":"d","k":253,"e":-1.20},{"b":"c49","s":"d","k":266,"e":-1.18},{"b":"c49","s":"d","k":280,"e":-1.17}
]
},
"bounds": "flush",
"spacing": 48,
"hconcat": [
{
 "width": 280, "height": 208,
 "layer": [
  {"data": {"name": "kp"}, "mark": {"type": "rule", "strokeDash": [3, 2], "color": "#222", "strokeWidth": 0.9},
   "encoding": {"x": {"field": "k", "type": "quantitative", "scale": {"domain": [0, 280], "nice": false, "zero": false},
     "axis": {"values": [0,38,76,130,150,188,226,280], "labels": false, "title": "KPOINTS", "titlePadding": 12}}}},
  {"data": {"name": "kp"}, "mark": {"type": "text", "font": "DejaVu Sans", "fontSize": 7.5, "color": "#333", "align": "center", "baseline": "top"},
   "encoding": {"x": {"field": "k", "type": "quantitative"}, "y": {"datum": -2.085}, "text": {"field": "lab"}}},
  {"data": {"name": "a"}, "mark": {"type": "line", "interpolate": "monotone", "strokeWidth": 1, "color": "#0000ff", "opacity": 0.85, "clip": true},
   "encoding": {"x": {"field": "k", "type": "quantitative"},
     "y": {"field": "e", "type": "quantitative", "scale": {"domain": [-2, 2], "nice": false, "zero": false},
       "axis": {"values": [-2,-1.5,-1,-0.5,0,0.5,1,1.5,2], "format": ".1f", "title": "Energy (eV)", "labelPadding": 2, "titlePadding": 4}},
     "detail": {"field": "b"}}},
  {"data": {"values": [{}]}, "mark": {"type": "rule", "strokeDash": [1.5, 1.5], "color": "#000", "strokeWidth": 0.8}, "encoding": {"y": {"datum": 0}}},
  {"data": {"values": [{"t": "(a)"}]}, "mark": {"type": "text", "font": "Liberation Serif", "fontWeight": "bold", "fontSize": 18.5, "align": "left", "baseline": "alphabetic"}, "encoding": {"x": {"datum": -44}, "y": {"datum": 2.26}, "text": {"field": "t"}}},
  {"data": {"values": [{"t": "Without strain"}]}, "mark": {"type": "text", "font": "Liberation Serif", "fontWeight": "bold", "fontSize": 18.5, "align": "center", "baseline": "alphabetic"}, "encoding": {"x": {"datum": 137}, "y": {"datum": 2.26}, "text": {"field": "t"}}}
 ]
},
{
 "bounds": "flush",
 "spacing": 44,
 "hconcat": [
 {
 "width": 280, "height": 208,
 "layer": [
  {"data": {"name": "kp"}, "mark": {"type": "rule", "strokeDash": [3, 2], "color": "#222", "strokeWidth": 0.9},
   "encoding": {"x": {"field": "k", "type": "quantitative", "scale": {"domain": [0, 280], "nice": false, "zero": false},
     "axis": {"values": [0,38,76,130,150,188,226,280], "labels": false, "title": "KPOINTS", "titlePadding": 12}}}},
  {"data": {"name": "kp"}, "mark": {"type": "text", "font": "DejaVu Sans", "fontSize": 7.5, "color": "#333", "align": "center", "baseline": "top"},
   "encoding": {"x": {"field": "k", "type": "quantitative"}, "y": {"datum": -2.085}, "text": {"field": "lab"}}},
  {"data": {"name": "b"}, "mark": {"type": "line", "interpolate": "monotone", "strokeWidth": 1, "opacity": 0.85, "clip": true},
   "encoding": {"x": {"field": "k", "type": "quantitative"},
     "y": {"field": "e", "type": "quantitative", "scale": {"domain": [-2, 2], "nice": false, "zero": false},
       "axis": {"values": [-2,-1.5,-1,-0.5,0,0.5,1,1.5,2], "format": ".1f", "title": "Energy (eV)", "labelPadding": 2, "titlePadding": 4}},
     "color": {"field": "s", "type": "nominal", "scale": {"domain": ["u", "d"], "range": ["#0000ff", "#ff0000"]}, "legend": null},
     "detail": {"field": "b"}}},
  {"data": {"values": [{}]}, "mark": {"type": "rule", "strokeDash": [1.5, 1.5], "color": "#000", "strokeWidth": 0.8}, "encoding": {"y": {"datum": 0}}},
  {"data": {"values": [{"t": "(b)"}]}, "mark": {"type": "text", "font": "Liberation Serif", "fontWeight": "bold", "fontSize": 18.5, "align": "left", "baseline": "alphabetic"}, "encoding": {"x": {"datum": -45}, "y": {"datum": 2.26}, "text": {"field": "t"}}},
  {"data": {"values": [{"t": "U"}]}, "mark": {"type": "text", "font": "Liberation Serif", "fontWeight": "bold", "fontSize": 18.5, "align": "left", "baseline": "alphabetic"}, "encoding": {"x": {"datum": 90}, "y": {"datum": 2.26}, "text": {"field": "t"}}},
  {"data": {"values": [{"t": "eff"}]}, "mark": {"type": "text", "font": "Liberation Serif", "fontWeight": "bold", "fontSize": 12, "align": "left", "baseline": "alphabetic"}, "encoding": {"x": {"datum": 103.5}, "y": {"datum": 2.19}, "text": {"field": "t"}}},
  {"data": {"values": [{"t": "= 3 eV"}]}, "mark": {"type": "text", "font": "Liberation Serif", "fontWeight": "bold", "fontSize": 18.5, "align": "left", "baseline": "alphabetic"}, "encoding": {"x": {"datum": 120}, "y": {"datum": 2.26}, "text": {"field": "t"}}}
 ]
 },
 {
 "width": 278, "height": 207,
 "layer": [
  {"data": {"name": "kp"}, "mark": {"type": "rule", "strokeDash": [3, 2], "color": "#222", "strokeWidth": 0.9},
   "encoding": {"x": {"field": "k", "type": "quantitative", "scale": {"domain": [0, 280], "nice": false, "zero": false},
     "axis": {"values": [0,38,76,130,150,188,226,280], "labels": false, "title": "KPOINTS", "titlePadding": 12}}}},
  {"data": {"name": "kp"}, "mark": {"type": "text", "font": "DejaVu Sans", "fontSize": 7.5, "color": "#333", "align": "center", "baseline": "top"},
   "encoding": {"x": {"field": "k", "type": "quantitative"}, "y": {"datum": -2.085}, "text": {"field": "lab"}}},
  {"data": {"name": "c"}, "mark": {"type": "line", "interpolate": "monotone", "strokeWidth": 1, "opacity": 0.85, "clip": true},
   "encoding": {"x": {"field": "k", "type": "quantitative"},
     "y": {"field": "e", "type": "quantitative", "scale": {"domain": [-2, 2], "nice": false, "zero": false},
       "axis": {"values": [-2,-1.5,-1,-0.5,0,0.5,1,1.5,2], "format": ".1f", "title": "Energy (eV)", "labelPadding": 2, "titlePadding": 4}},
     "color": {"field": "s", "type": "nominal", "scale": {"domain": ["u", "d"], "range": ["#0000ff", "#ff0000"]}, "legend": null},
     "detail": {"field": "b"}}},
  {"data": {"values": [{}]}, "mark": {"type": "rule", "strokeDash": [1.5, 1], "color": "#000", "strokeWidth": 1.3}, "encoding": {"x": {"datum": 0}, "x2": {"datum": 246}, "y": {"datum": 0}}},
  {"data": {"values": [{"t": "(c)"}]}, "mark": {"type": "text", "font": "Liberation Serif", "fontWeight": "bold", "fontSize": 18.5, "align": "left", "baseline": "alphabetic"}, "encoding": {"x": {"datum": -39}, "y": {"datum": 2.29}, "text": {"field": "t"}}},
  {"data": {"values": [{"t": "SCAN+U"}]}, "mark": {"type": "text", "font": "Liberation Serif", "fontWeight": "bold", "fontSize": 18.5, "align": "center", "baseline": "alphabetic"}, "encoding": {"x": {"datum": 133.5}, "y": {"datum": 2.29}, "text": {"field": "t"}}}
 ]
 }
 ]
}
]
}
